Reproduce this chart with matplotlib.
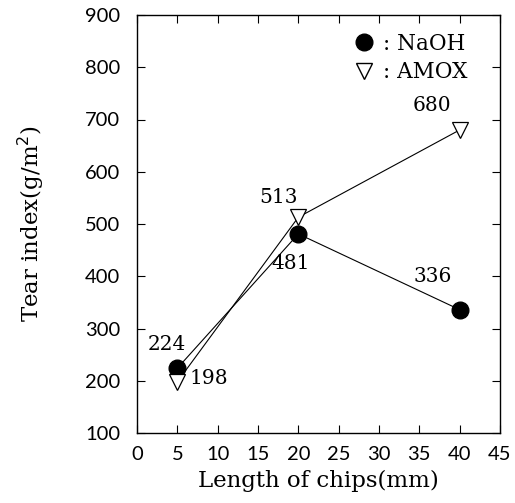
import matplotlib
matplotlib.use('Agg')
import matplotlib.pyplot as plt
from matplotlib.lines import Line2D

# chip length (mm) vs tear index
chip_len = [5, 20, 40]
naoh = [224, 481, 336]
amox = [198, 513, 680]

naoh_labels = ['224', '481', '336']
amox_labels = ['198', '513', '680']

serif = 'DejaVu Serif'
sans = 'Lato'

fig = plt.figure(figsize=(5.15, 5.03), dpi=100)
ax = fig.add_axes([137/515, 1-433/503, (500-137)/515, (433-15)/503])

ax.plot(chip_len, naoh, color='black', lw=0.8, marker='o', ms=12,
        mfc='black', mec='black', zorder=3)
ax.plot(chip_len, amox, color='black', lw=0.8, marker='v', ms=11,
        mfc='white', mec='black', mew=0.9, zorder=3)

# value annotations
fs = 14.5
ax.text(3.7, 270, naoh_labels[0], family=serif, fontsize=fs, ha='center', va='center')
ax.text(6.5, 205, amox_labels[0], family=serif, fontsize=fs, ha='left', va='center')
ax.text(17.6, 550, amox_labels[1], family=serif, fontsize=fs, ha='center', va='center')
ax.text(19.0, 425, naoh_labels[1], family=serif, fontsize=fs, ha='center', va='center')
ax.text(36.6, 400, naoh_labels[2], family=serif, fontsize=fs, ha='center', va='center')
ax.text(36.6, 726, amox_labels[2], family=serif, fontsize=fs, ha='center', va='center')

ax.set_xlim(0, 45)
ax.set_ylim(100, 900)
ax.set_xticks(range(0, 46, 5))
ax.set_yticks(range(100, 901, 100))
ax.tick_params(direction='in', top=True, right=True, length=6, width=0.8,
               labelsize=14.5, pad=9)
ax.tick_params(axis='y', pad=12)
for lab in ax.get_xticklabels() + ax.get_yticklabels():
    lab.set_family(sans)
for s in ax.spines.values():
    s.set_linewidth(1.0)

ax.set_xlabel('Length of chips(mm)', family=serif, fontsize=16.5, labelpad=5)
ax.set_ylabel('Tear index(g/m$^2$)', family=serif, fontsize=16.5, labelpad=28)

handles = [Line2D([], [], ls='none', marker='o', ms=12, mfc='black', mec='black'),
           Line2D([], [], ls='none', marker='v', ms=11, mfc='white', mec='black')]
leg = ax.legend(handles, [': NaOH', ': AMOX'], loc='upper right', frameon=False,
                prop={'family': serif, 'size': 15.5}, handletextpad=0.1,
                handlelength=1.6, borderaxespad=0, bbox_to_anchor=(0.935, 0.978),
                labelspacing=0.3)

fig.savefig('out.png', dpi=100)
